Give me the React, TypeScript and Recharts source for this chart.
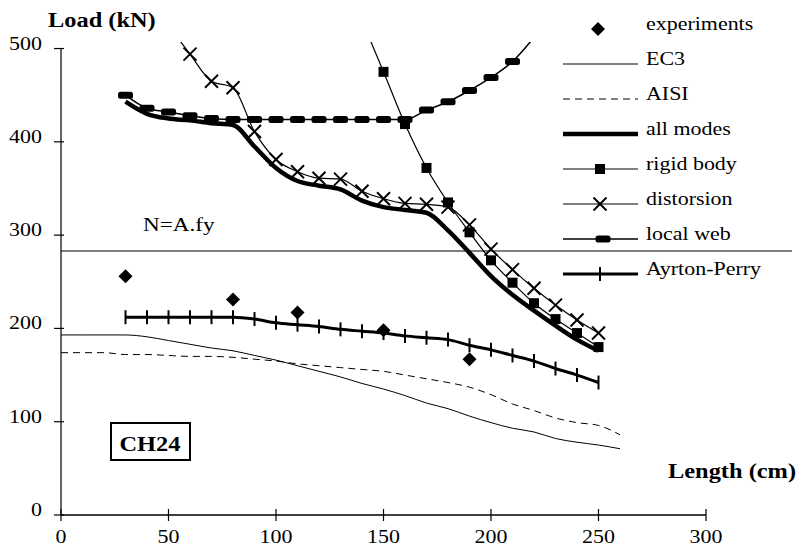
import React from 'react';
import { ComposedChart, Line, XAxis, YAxis, ReferenceLine, Customized } from 'recharts';

// ---------- data ----------
const experimentsX = [30, 80, 110, 150, 190];
const experimentsY = [256, 231, 217, 198, 167];

const ec3X = [0, 10, 20, 30, 40, 50, 60, 70, 80, 90, 100, 110, 120, 130, 140, 150, 160, 170, 180, 190, 200, 210, 220, 230, 240, 250, 260];
const ec3Y = [193, 193, 193, 193, 191, 187, 183, 179, 176, 171, 166, 160, 154, 148, 141, 135, 128, 120, 114, 106, 99, 93, 89, 82, 78, 75, 71];

const aisiX = [0, 10, 20, 30, 40, 50, 60, 70, 80, 90, 100, 110, 120, 130, 140, 150, 160, 170, 180, 190, 200, 210, 220, 230, 240, 250, 260];
const aisiY = [174, 174, 174, 172, 172, 171, 170, 170, 169, 167, 165, 162, 160, 158, 156, 154, 150, 146, 142, 137, 129, 119, 112, 104, 99, 96, 86];

const allModesX = [30, 40, 50, 60, 70, 80, 90, 100, 110, 120, 130, 140, 150, 160, 170, 180, 190, 200, 210, 220, 230, 240, 250];
const allModesY = [443, 430, 425, 423, 420, 418, 395, 372, 358, 353, 349, 337, 330, 327, 324, 305, 281, 256, 236, 219, 203, 188, 176];

const rigidX = [140, 150, 160, 170, 180, 190, 200, 210, 220, 230, 240, 250];
const rigidY = [530, 475, 419, 372, 335, 303, 273, 249, 227, 210, 195, 180];

const distX = [50, 60, 70, 80, 90, 100, 110, 120, 130, 140, 150, 160, 170, 180, 190, 200, 210, 220, 230, 240, 250];
const distY = [525, 494, 465, 458, 411, 381, 368, 361, 360, 347, 339, 334, 333, 330, 311, 285, 263, 243, 225, 209, 195];

const localWebX = [30, 40, 50, 60, 70, 80, 90, 100, 110, 120, 130, 140, 150, 160, 170, 180, 190, 200, 210, 220];
const localWebY = [450, 436, 432, 428, 425, 424, 424, 424, 424, 424, 424, 424, 424, 424, 434, 443, 455, 469, 486, 512];

const apX = [30, 40, 50, 60, 70, 80, 90, 100, 110, 120, 130, 140, 150, 160, 170, 180, 190, 200, 210, 220, 230, 240, 250];
const apY = [212, 212, 212, 212, 212, 212, 210, 206, 204, 202, 199, 197, 195, 192, 190, 188, 182, 177, 171, 165, 157, 150, 142];

const squashLoad = 283;
const xTicks = [0, 50, 100, 150, 200, 250, 300];
const yTicks = [0, 100, 200, 300, 400, 500];
const legendLabels = ['experiments', 'EC3', 'AISI', 'all modes', 'rigid body', 'distorsion', 'local web', 'Ayrton-Perry'];

const toPts = (xs: number[], ys: number[]) => xs.map((x, i) => ({ x, y: ys[i] }));
const experiments = toPts(experimentsX, experimentsY);
const ec3 = toPts(ec3X, ec3Y);
const aisi = toPts(aisiX, aisiY);
const allModes = toPts(allModesX, allModesY);
const rigid = toPts(rigidX, rigidY);
const dist = toPts(distX, distY);
const localWeb = toPts(localWebX, localWebY);
const ap = toPts(apX, apY);

// ---------- styling helpers ----------
const FONT = "'Liberation Serif', 'Times New Roman', serif";
const SX = 1.22;

function T({ x, y, children, size = 18, bold = false, anchor = 'start' }: any) {
  return (
    <text
      transform={`translate(${x},${y}) scale(${SX},1)`}
      fontFamily={FONT}
      fontSize={size}
      fontWeight={bold ? 'bold' : 'normal'}
      textAnchor={anchor}
      fill="#000"
    >
      {children}
    </text>
  );
}

const Diamond = ({ cx, cy }: any) => (
  <polygon points={`${cx},${cy - 7} ${cx + 7},${cy} ${cx},${cy + 7} ${cx - 7},${cy}`} fill="#000" />
);
const Square = ({ cx, cy }: any) => <rect x={cx - 5} y={cy - 5} width={10} height={10} fill="#000" />;
const Cross = ({ cx, cy }: any) => (
  <g stroke="#000" strokeWidth={2}>
    <line x1={cx - 6.5} y1={cy - 6.5} x2={cx + 6.5} y2={cy + 6.5} />
    <line x1={cx - 6.5} y1={cy + 6.5} x2={cx + 6.5} y2={cy - 6.5} />
  </g>
);
const Dash = ({ cx, cy }: any) => <rect x={cx - 7.5} y={cy - 3.5} width={15} height={7} rx={2.5} fill="#000" />;
const Plus = ({ cx, cy }: any) => <line x1={cx} y1={cy - 7} x2={cx} y2={cy + 7} stroke="#000" strokeWidth={2} />;

const dotFn = (Comp: any) => (p: any) => {
  if (p.cx == null || p.cy == null) return <g key={p.index} />;
  return <Comp key={p.index} cx={p.cx} cy={p.cy} />;
};

const YTick = (p: any) => {
  const { x, y, payload } = p;
  return (
    <g>
      <line x1={x - 7} x2={x + 3} y1={y} y2={y} stroke="#000" strokeWidth={1.2} />
      <T x={x - 19} y={y + 1} anchor="end">{payload.value}</T>
    </g>
  );
};

const XTick = (p: any) => {
  const { x, y, payload } = p;
  return (
    <g>
      <line x1={x} x2={x} y1={y - 6} y2={y + 6} stroke="#000" strokeWidth={1.2} />
      <T x={x} y={y + 28} anchor="middle">{payload.value}</T>
    </g>
  );
};

const Overlay = () => {
  const rowY = (i: number) => 29 + 35 * i;
  const lx1 = 563;
  const lx2 = 638;
  const mx = 600;
  return (
    <g>
      <T x={48} y={27} size={20} bold>Load (kN)</T>
      <T x={668} y={478} size={20} bold>Length (cm)</T>
      <T x={143} y={231} size={19}>N=A.fy</T>
      <rect x={111} y={423} width={79} height={37} fill="none" stroke="#000" strokeWidth={2} />
      <T x={150} y={451} size={20} bold anchor="middle">CH24</T>
      {/* legend */}
      <Diamond cx={mx - 2} cy={rowY(0)} />
      <line x1={lx1} x2={lx2} y1={rowY(1)} y2={rowY(1)} stroke="#000" strokeWidth={1} />
      <line x1={lx1} x2={lx2} y1={rowY(2)} y2={rowY(2)} stroke="#000" strokeWidth={1} strokeDasharray="7 5" />
      <line x1={lx1} x2={lx2} y1={rowY(3)} y2={rowY(3)} stroke="#000" strokeWidth={4.5} />
      <line x1={lx1} x2={lx2} y1={rowY(4)} y2={rowY(4)} stroke="#000" strokeWidth={1.2} />
      <Square cx={mx} cy={rowY(4)} />
      <line x1={lx1} x2={lx2} y1={rowY(5)} y2={rowY(5)} stroke="#000" strokeWidth={1.2} />
      <Cross cx={mx} cy={rowY(5)} />
      <line x1={lx1} x2={lx2} y1={rowY(6)} y2={rowY(6)} stroke="#000" strokeWidth={1.5} />
      <Dash cx={mx + 3} cy={rowY(6)} />
      <line x1={lx1} x2={lx2} y1={rowY(7)} y2={rowY(7)} stroke="#000" strokeWidth={3} />
      <Plus cx={mx} cy={rowY(7)} />
      {legendLabels.map((l, i) => (
        <T key={l} x={646} y={rowY(i) + 1}>{l}</T>
      ))}
    </g>
  );
};

export default function App() {
  return (
    <div style={{ position: 'absolute', left: 0, top: 0, background: '#fff' }}>
      <ComposedChart width={802} height={551} margin={{ top: 42, right: 10, bottom: 6, left: 21 }}>
        <XAxis
          type="number"
          dataKey="x"
          domain={[0, 340]}
          ticks={xTicks}
          allowDataOverflow
          axisLine={false}
          tickLine={false}
          tickSize={0}
          tickMargin={0}
          height={30}
          tick={XTick}
          interval={0}
        />
        <YAxis
          type="number"
          dataKey="y"
          domain={[0, 507]}
          ticks={yTicks}
          allowDataOverflow
          axisLine={false}
          tickLine={false}
          tickSize={0}
          tickMargin={0}
          width={40}
          tick={YTick}
          interval={0}
        />
        <ReferenceLine segment={[{ x: 0, y: 0 }, { x: 300, y: 0 }]} stroke="#000" strokeWidth={1.5} />
        <ReferenceLine segment={[{ x: 0, y: 0 }, { x: 0, y: 500 }]} stroke="#000" strokeWidth={1.2} />
        <ReferenceLine y={squashLoad} stroke="#000" strokeWidth={1.2} />

        <Line data={ec3} dataKey="y" type="monotone" stroke="#000" strokeWidth={1} dot={false} isAnimationActive={false} />
        <Line data={aisi} dataKey="y" type="monotone" stroke="#000" strokeWidth={1} strokeDasharray="7 5" dot={false} isAnimationActive={false} />
        <Line data={ap} dataKey="y" type="monotone" stroke="#000" strokeWidth={3} dot={dotFn(Plus)} isAnimationActive={false} />
        <Line data={allModes} dataKey="y" type="monotone" stroke="#000" strokeWidth={4.5} dot={false} isAnimationActive={false} />
        <Line data={rigid} dataKey="y" type="monotone" stroke="#000" strokeWidth={1.2} dot={dotFn(Square)} isAnimationActive={false} />
        <Line data={dist} dataKey="y" type="monotone" stroke="#000" strokeWidth={1.2} dot={dotFn(Cross)} isAnimationActive={false} />
        <Line data={localWeb} dataKey="y" type="monotone" stroke="#000" strokeWidth={1.5} dot={dotFn(Dash)} isAnimationActive={false} />
        <Line data={experiments} dataKey="y" stroke="none" strokeWidth={0} dot={dotFn(Diamond)} isAnimationActive={false} />
        <Customized component={Overlay} />
      </ComposedChart>
    </div>
  );
}
